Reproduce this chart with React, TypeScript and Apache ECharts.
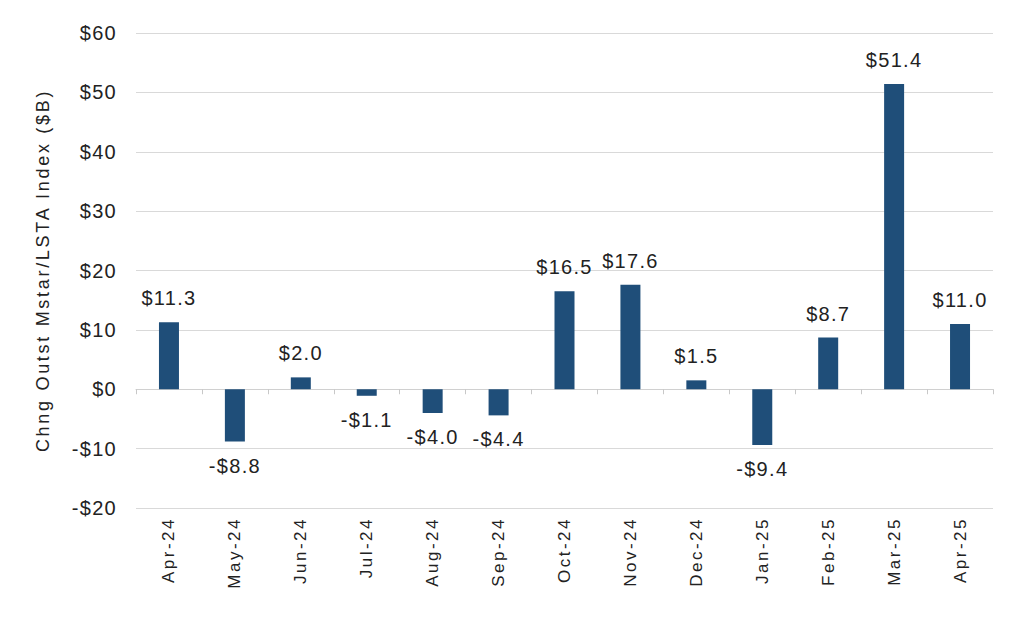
import React, { useEffect, useRef } from "react";
import * as echarts from "echarts";

const categories = [
  "Apr-24", "May-24", "Jun-24", "Jul-24", "Aug-24", "Sep-24", "Oct-24",
  "Nov-24", "Dec-24", "Jan-25", "Feb-25", "Mar-25", "Apr-25",
];
const values = [11.3, -8.8, 2.0, -1.1, -4.0, -4.4, 16.5, 17.6, 1.5, -9.4, 8.7, 51.4, 11.0];
const yTicks = [-20, -10, 0, 10, 20, 30, 40, 50, 60];
const yName = "Chng Outst Mstar/LSTA Index ($B)";

const fmtMoney = (v: number, digits: number) =>
  (v < 0 ? "-$" : "$") + Math.abs(v).toFixed(digits);

const FONT = "Liberation Sans, Arial, sans-serif";
const TEXT = "#222222";

export default function App() {
  const ref = useRef<HTMLDivElement>(null);
  useEffect(() => {
    if (!ref.current) return;
    const chart = echarts.init(ref.current, undefined, { renderer: "svg" });
    chart.setOption({
      animation: false,
      backgroundColor: "#ffffff",
      textStyle: { fontFamily: FONT },
      grid: { left: 136, right: 31, top: 33, bottom: 111 },
      xAxis: [
        {
          type: "category",
          data: categories,
          position: "bottom",
          axisLine: { show: false, onZero: false },
          axisTick: { show: false },
          splitLine: { show: false },
          axisLabel: {
            rotate: 90,
            interval: 0,
            margin: 9,
            fontSize: 17,
            color: TEXT,
            fontFamily: FONT,
          },
        },
        {
          type: "category",
          data: categories,
          position: "bottom",
          axisLine: { show: true, onZero: true, lineStyle: { color: "#d0d0d0", width: 1 } },
          axisTick: { show: true, length: 5, lineStyle: { color: "#c8c8c8" } },
          axisLabel: { show: false },
          splitLine: { show: false },
        },
      ],
      yAxis: {
        type: "value",
        min: yTicks[0],
        max: yTicks[yTicks.length - 1],
        interval: 10,
        name: yName,
        nameLocation: "middle",
        nameRotate: 90,
        nameGap: 84,
        nameTextStyle: { fontSize: 18, color: TEXT, fontFamily: FONT },
        axisLine: { show: false },
        axisTick: { show: false },
        axisLabel: {
          margin: 19,
          fontSize: 20,
          color: TEXT,
          fontFamily: FONT,
          formatter: (v: number) => fmtMoney(v, 0),
        },
        splitLine: { lineStyle: { color: "#d9d9d9", width: 1 } },
      },
      series: [
        {
          type: "bar",
          xAxisIndex: 0,
          barWidth: 20,
          itemStyle: { color: "#1F4E79" },
          data: values.map((v) => ({
            value: v,
            label: { position: v < 0 ? "bottom" : "top" },
          })),
          label: {
            show: true,
            distance: 14,
            fontSize: 20,
            color: TEXT,
            fontFamily: FONT,
            formatter: (p: any) => fmtMoney(p.value, 1),
          },
        },
      ],
    });
    return () => chart.dispose();
  }, []);
  return (
    <>
      <style>{`
        #chart svg text { letter-spacing: 2px; }
        #chart svg text[style*="20px"] { letter-spacing: 1.3px; }
        #chart svg text[style*="18px"] { letter-spacing: 2.7px; }
        #chart svg text[style*="17px"] { letter-spacing: 2.5px; }
      `}</style>
      <div
        id="chart"
        ref={ref}
        style={{ position: "absolute", left: 0, top: 0, width: 1024, height: 619 }}
      />
    </>
  );
}
